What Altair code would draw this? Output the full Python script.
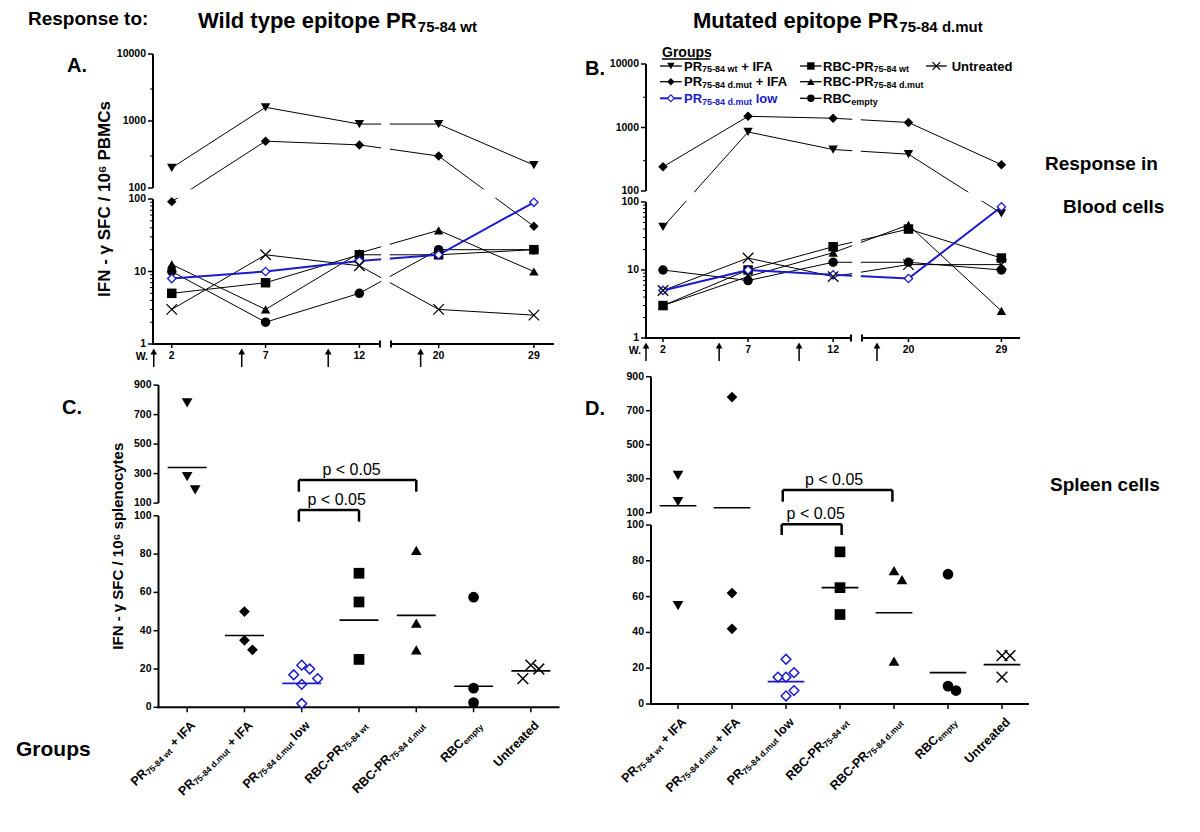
import altair as alt
import pandas as pd

# ------------------------------------------------------------------ data
WEEKS = [2, 7, 12, 20, 29]
GROUPS = ["wt_ifa", "dmut_ifa", "dmut_low", "rbc_wt", "rbc_dmut", "rbc_empty", "untreated"]

# A: blood cells, response to wild type epitope (SFC / 10^6 PBMCs)
A_WT_IFA = [200, 1600, 900, 900, 220]
A_DMUT_IFA = [92, 500, 440, 300, 42]
A_DMUT_LOW = [8, 10, 14, 17, 90]
A_RBC_WT = [5, 7, 17, 17, 20]
A_RBC_DMUT = [12.5, 3, 18, 37, 10]
A_RBC_EMPTY = [10, 2, 5, 20, 20]
A_UNTREATED = [3, 17, 12, 3, 2.5]
A_IMMUNISATION_WEEKS = [1.04, 5.73, 10.34, 18.3]

# B: blood cells, response to mutated epitope
B_WT_IFA = [43, 850, 450, 380, 68]
B_DMUT_IFA = [240, 1500, 1400, 1200, 260]
B_DMUT_LOW = [5, 10, 8.5, 7.5, 85]
B_RBC_WT = [3, 10, 22, 40, 15]
B_RBC_DMUT = [3, 8, 18, 46, 2.5]
B_RBC_EMPTY = [10, 7, 13, 13, 10]
B_UNTREATED = [5, 15, 8, 12, 12]
B_IMMUNISATION_WEEKS = [1.0, 5.3, 10.0, 16.95]

# C: spleen cells, wild type epitope (SFC / 10^6 splenocytes)
C_WT_IFA = [780, 280, 190]
C_DMUT_IFA = [50, 35, 30]
C_DMUT_LOW = [22, 20, 17, 15, 12, 2]
C_RBC_WT = [70, 55, 25]
C_RBC_DMUT = [82, 44, 30]
C_RBC_EMPTY = [57.5, 10, 2.5]
C_UNTREATED = [22, 20, 15]
C_MEANS = [341, 37.5, 12.5, 45.5, 48, 11, 19]

# D: spleen cells, mutated epitope
D_WT_IFA = [320, 165, 55]
D_DMUT_IFA = [780, 62, 42]
D_DMUT_LOW = [25, 17.5, 15, 15, 7.5, 4.5]
D_RBC_WT = [85, 65, 50]
D_RBC_DMUT = [74.5, 69.5, 24]
D_RBC_EMPTY = [72.5, 10, 7.5]
D_UNTREATED = [27, 27, 15]
D_MEANS = [141, 129, 12.5, 65, 51, 17.5, 22]

# axis ticks (broken axes: 'b' = lower segment, 't' = upper segment)
LOG_TICKS = [1, 10, 100, 100, 1000, 10000]
LOG_TICK_SEGS = ["b", "b", "b", "t", "t", "t"]
LOG_MINOR_TICKS = [2, 3, 4, 5, 6, 7, 8, 9, 20, 30, 40, 50, 60, 70, 80, 90, 300, 3000]
LIN_TICKS = [0, 20, 40, 60, 80, 100, 100, 300, 500, 700, 900]
LIN_TICK_SEGS = ["b"] * 6 + ["t"] * 5
P_LABEL = "p < 0.05"

# ------------------------------------------------------------------ styling / layout
BLUE = "#1a1acc"
FONT = "Liberation Sans"
XPATH = "M-1,-1L1,1M-1,1L1,-1"
CANVAS_W, CANVAS_H = 1184, 816
MARGIN = 8
TICKF = 10.5


def cx(p):
    return p - MARGIN


SHAPES = {"wt_ifa": "triangle-down", "dmut_ifa": "diamond", "dmut_low": "diamond",
          "rbc_wt": "square", "rbc_dmut": "triangle-up", "rbc_empty": "circle",
          "untreated": XPATH}
KIND = {g: "filled" for g in GROUPS}
KIND["dmut_low"] = "open"
KIND["untreated"] = "cross"
DRAW_ORDER = ["rbc_empty", "rbc_dmut", "rbc_wt", "dmut_low", "untreated", "dmut_ifa", "wt_ifa"]

PARTS = {
    "wt_ifa": [("PR", 0), ("75-84 wt", 1), (" + IFA", 0)],
    "dmut_ifa": [("PR", 0), ("75-84 d.mut", 1), (" + IFA", 0)],
    "dmut_low": [("PR", 0), ("75-84 d.mut", 1), (" low", 0)],
    "rbc_wt": [("RBC-PR", 0), ("75-84 wt", 1)],
    "rbc_dmut": [("RBC-PR", 0), ("75-84 d.mut", 1)],
    "rbc_empty": [("RBC", 0), ("empty", 1)],
    "untreated": [("Untreated", 0)],
}

CHARW = {'A': 722, 'B': 722, 'C': 722, 'D': 722, 'E': 667, 'F': 611, 'G': 778, 'I': 278,
         'M': 833, 'N': 722, 'P': 667, 'R': 722, 'S': 667, 'U': 722, 'W': 944,
         'a': 556, 'c': 556, 'd': 611, 'e': 556, 'i': 278, 'l': 278, 'm': 889, 'n': 611,
         'o': 611, 'p': 611, 'r': 389, 's': 556, 't': 333, 'u': 611, 'w': 778, 'y': 556,
         ' ': 278, '.': 278, '-': 333, '+': 584, ':': 333}


def tw(s, fs):
    return sum(CHARW.get(c, 556) for c in s) * fs / 1000.0


PA = dict(x0=cx(153), W=401, yb=cx(344), H=290, LS=18.76, RS0=238, RS=10.584, Lend=227,
          BD=72.5, T0=156, TD=67)
PB = dict(x0=cx(646), W=374, yb=cx(338), H=274, LS=17.012, RS0=216, RS=10.327, Lend=205,
          BD=68, T0=147, TD=63.5)
PC = dict(x0=cx(158.5), x1=cx(559.5), yb=cx(707.3), BU=1.915, T0=204.2, TU=0.1475, H=322.2)
PD = dict(x0=cx(651), x1=cx(1029), yb=cx(704), BU=1.79, T0=191.3, TU=0.17, H=327.3)


def point_layers(base, X, Y, sizes, sw):
    filled = base.transform_filter("datum.kind == 'filled'").mark_point(
        filled=True, color="black", opacity=1, size=sizes[0]).encode(
        x=X, y=Y, shape=alt.Shape("shape:N", scale=None))
    openp = base.transform_filter("datum.kind == 'open'").mark_point(
        shape="diamond", filled=True, fill="white", stroke=BLUE, strokeWidth=sw,
        opacity=1, size=sizes[1]).encode(x=X, y=Y)
    cross = base.transform_filter("datum.kind == 'cross'").mark_point(
        shape=XPATH, filled=False, stroke="black", strokeWidth=sw, opacity=1,
        size=sizes[2]).encode(x=X, y=Y)
    return [filled, openp, cross]


def rules(df, xs, ys, width, color="black"):
    enc = dict(x=alt.X("x:Q", scale=xs, axis=None), y=alt.Y("y:Q", scale=ys, axis=None))
    if "x2" in df:
        enc["x2"] = "x2:Q"
    if "y2" in df:
        enc["y2"] = "y2:Q"
    return alt.Chart(df).mark_rule(color=color, strokeWidth=width).encode(**enc)


def time_panel(series, imm_weeks, P, ytitle, tsize, title_dx):
    W, H = P["W"], P["H"]
    xs = alt.Scale(domain=[0, W], range=[P["x0"], P["x0"] + W], nice=False, zero=False)
    ys = alt.Scale(domain=[0, H], range=[P["yb"], P["yb"] - H], nice=False, zero=False)
    xexpr = (f"datum.week < 14 ? (datum.week - 1) * {P['LS']} : "
             f"{P['RS0']} + (datum.week - 15.5) * {P['RS']}")
    yexpr = (f"(datum.seg ? datum.seg == 'b' : datum.value < 100) ? "
             f"log(datum.value) / LN10 * {P['BD']} : "
             f"{P['T0']} + (log(datum.value) / LN10 - 2) * {P['TD']}")

    rows = [dict(group=g, week=w, value=v, shape=SHAPES[g], kind=KIND[g])
            for g in DRAW_ORDER for w, v in zip(WEEKS, series[g])]
    base = alt.Chart(pd.DataFrame(rows)).transform_calculate(xt=xexpr, yt=yexpr)
    Xn = alt.X("xt:Q", scale=xs, axis=None)
    Yn = alt.Y("yt:Q", scale=ys, axis=None)

    lines = base.transform_filter("datum.group != 'dmut_low'").mark_line(
        color="black", strokeWidth=1).encode(x=Xn, y=Yn, detail="group:N")
    blue = base.transform_filter("datum.group == 'dmut_low'").mark_line(
        color=BLUE, strokeWidth=2).encode(x=Xn, y=Yn)

    mask_df = pd.DataFrame([
        dict(x=-3, x2=W + 3, y=2 * P["BD"] + 1.2, y2=P["T0"] - 1.2),
        dict(x=P["Lend"] + 1.2, x2=P["RS0"] - 1.2, y=-6, y2=H + 4),
    ])
    masks = alt.Chart(mask_df).mark_rect(color="white", opacity=1).encode(
        x=alt.X("x:Q", scale=xs, axis=None), x2="x2:Q",
        y=alt.Y("y:Q", scale=ys, axis=None), y2="y2:Q")

    # axis lines (broken)
    ydom = rules(pd.DataFrame([dict(x=0, y=-1, y2=2 * P["BD"]), dict(x=0, y=P["T0"], y2=H)]),
                 xs, ys, 2)
    xdom = rules(pd.DataFrame([dict(x=-1, x2=P["Lend"], y=0), dict(x=P["RS0"], x2=W, y=0)]),
                 xs, ys, 2)
    caps = rules(pd.DataFrame([dict(x=P["Lend"], y=-3.5, y2=3.5),
                               dict(x=P["RS0"], y=-3.5, y2=3.5)]), xs, ys, 2)
    # y ticks + labels
    ytk = alt.Chart(pd.DataFrame({"value": LOG_TICKS, "seg": LOG_TICK_SEGS,
                                  "label": [str(v) for v in LOG_TICKS]})).transform_calculate(
        yt=yexpr, xa="-5", xb="0")
    ytick = ytk.mark_rule(color="black", strokeWidth=1.5).encode(
        x=alt.X("xa:Q", scale=xs, axis=None), x2="xb:Q", y=Yn)
    ylab = ytk.mark_text(align="right", baseline="middle", dx=-7, font=FONT, fontWeight="bold",
                         fontSize=TICKF, color="black").encode(
        x=alt.X("xb:Q", scale=xs, axis=None), y=Yn, text="label:N")
    minor = alt.Chart(pd.DataFrame({"value": LOG_MINOR_TICKS})).transform_calculate(
        yt=yexpr, xa="-3", xb="0").mark_rule(color="black", strokeWidth=1).encode(
        x=alt.X("xa:Q", scale=xs, axis=None), x2="xb:Q", y=Yn)
    # x ticks + labels
    xtk = alt.Chart(pd.DataFrame({"week": WEEKS, "label": [str(w) for w in WEEKS]})
                    ).transform_calculate(xt=xexpr, ya="0", yb="-4", yl="-12")
    xtick = xtk.mark_rule(color="black", strokeWidth=1.5).encode(
        x=Xn, y=alt.Y("ya:Q", scale=ys, axis=None), y2="yb:Q")
    xlab = xtk.mark_text(align="center", baseline="middle", font=FONT, fontWeight="bold",
                         fontSize=TICKF, color="black").encode(
        x=Xn, y=alt.Y("yl:Q", scale=ys, axis=None), text="label:N")

    arr = alt.Chart(pd.DataFrame({"week": imm_weeks})).transform_calculate(
        xt=xexpr, ya="-10", yb="-23", yh="-7.5")
    shafts = arr.mark_rule(color="black", strokeWidth=1.5).encode(
        x=Xn, y=alt.Y("ya:Q", scale=ys, axis=None), y2="yb:Q")
    heads = arr.mark_point(shape="triangle-up", filled=True, color="black", size=45,
                           opacity=1).encode(x=Xn, y=alt.Y("yh:Q", scale=ys, axis=None))
    txt = [dict(x=-5, y=-13, t="W.")]
    wl = alt.Chart(pd.DataFrame(txt)).mark_text(
        align="right", baseline="middle", font=FONT, fontWeight="bold", fontSize=TICKF,
        color="black").encode(x=alt.X("x:Q", scale=xs, axis=None),
                              y=alt.Y("y:Q", scale=ys, axis=None), text="t:N")
    layers = [lines, blue, masks, ydom, xdom, caps, ytick, ylab, minor, xtick, xlab,
              shafts, heads, wl]
    if ytitle:
        layers.append(alt.Chart(pd.DataFrame([dict(x=title_dx, y=H / 2, t=ytitle)])).mark_text(
            angle=270, align="center", baseline="middle", font=FONT, fontWeight="bold",
            fontSize=tsize, color="black").encode(
            x=alt.X("x:Q", scale=xs, axis=None), y=alt.Y("y:Q", scale=ys, axis=None),
            text="t:N"))
    layers += point_layers(base, Xn, Yn, (90, 70, 110), 1.3)
    return alt.layer(*layers)


def slots_for(values, yfun, thr=13.5):
    placed = []
    res = [0] * len(values)
    for i in sorted(range(len(values)), key=lambda k: -values[k]):
        y = yfun(values[i])
        for s in [0, 1, -1, 2, -2, 3, -3]:
            if all(abs(y - py) >= thr for py, ps in placed if ps == s):
                res[i] = s
                placed.append((y, s))
                break
    return res


MAINF, SUBF = 12.5, 8.5


def dot_panel(vals, means, brackets, ptexts, P, ytitle, tsize):
    H = P["H"]
    xs = alt.Scale(domain=[-0.5, 6.5], range=[P["x0"], P["x1"]], nice=False, zero=False)
    ys = alt.Scale(domain=[0, H], range=[P["yb"], P["yb"] - H], nice=False, zero=False)
    step = (P["x1"] - P["x0"]) / 7.0
    sw = 8.0 / step

    def yt(v):
        return v * P["BU"] if v <= 100 else P["T0"] + (v - 100) * P["TU"]

    yexpr = (f"(datum.seg ? datum.seg == 'b' : datum.value <= 100) ? datum.value * {P['BU']} : "
             f"{P['T0']} + (datum.value - 100) * {P['TU']}")
    rows = []
    for gi, g in enumerate(GROUPS):
        sl = slots_for(vals[g], yt)
        for v, s in zip(vals[g], sl):
            rows.append(dict(group=g, idx=gi, value=v, slot=s, shape=SHAPES[g], kind=KIND[g]))
    base = alt.Chart(pd.DataFrame(rows)).transform_calculate(
        yt=yexpr, xp=f"datum.idx + datum.slot * {sw}")
    Xp = alt.X("xp:Q", scale=xs, axis=None)
    Yn = alt.Y("yt:Q", scale=ys, axis=None)

    # axes
    ydom = rules(pd.DataFrame([dict(x=-0.5, y=-1, y2=100 * P["BU"]),
                               dict(x=-0.5, y=P["T0"], y2=H)]), xs, ys, 2)
    xdom = rules(pd.DataFrame([dict(x=-0.5 - 1 / step, x2=6.5, y=0)]), xs, ys, 2)
    xtick = rules(pd.DataFrame([dict(x=i, y=0, y2=-5) for i in range(7)]), xs, ys, 1.5)
    ytk = alt.Chart(pd.DataFrame({"value": LIN_TICKS, "seg": LIN_TICK_SEGS,
                                  "label": [str(v) for v in LIN_TICKS]})).transform_calculate(
        yt=yexpr, xa=f"{-0.5 - 5 / step}", xb="-0.5")
    ytick = ytk.mark_rule(color="black", strokeWidth=1.5).encode(
        x=alt.X("xa:Q", scale=xs, axis=None), x2="xb:Q", y=Yn)
    ylab = ytk.mark_text(align="right", baseline="middle", dx=-7, font=FONT, fontWeight="bold",
                         fontSize=TICKF, color="black").encode(
        x=alt.X("xb:Q", scale=xs, axis=None), y=Yn, text="label:N")

    pts = point_layers(base, Xp, Yn, (115, 95, 115), 1.5)

    mdf = pd.DataFrame({"idx": list(range(7)), "value": means,
                        "c": [BLUE if g == "dmut_low" else "black" for g in GROUPS]})
    bars = alt.Chart(mdf).transform_calculate(
        yt=yexpr, xa="datum.idx - 0.34", xb="datum.idx + 0.34").mark_rule(strokeWidth=1.6).encode(
        x=alt.X("xa:Q", scale=xs, axis=None), x2="xb:Q", y=Yn,
        color=alt.Color("c:N", scale=None))

    seg = []
    for (x1, x2, top, leg) in brackets:
        seg += [dict(x=x1, x2=x2, y=top, y2=top), dict(x=x1, x2=x1, y=top, y2=leg),
                dict(x=x2, x2=x2, y=top, y2=leg)]
    br = rules(pd.DataFrame(seg), xs, ys, 2.5)
    pt = alt.Chart(pd.DataFrame([dict(x=a, y=b, t=P_LABEL) for a, b in ptexts])).mark_text(
        align="center", baseline="middle", font=FONT, fontSize=16, color="black").encode(
        x=alt.X("x:Q", scale=xs, axis=None), y=alt.Y("y:Q", scale=ys, axis=None), text="t:N")

    labels = []
    for gi, g in enumerate(GROUPS):
        parts = PARTS[g]
        for k, (txt, sub) in enumerate(parts):
            after = sum(tw(t, SUBF if s else MAINF) for t, s in parts[k + 1:])
            labels.append(alt.Chart(pd.DataFrame({"idx": [gi], "t": [txt.strip()]})).mark_text(
                angle=315, align="right", baseline="middle", dx=-7.07 - after,
                dy=15.6 + (3 if sub else 0), fontSize=SUBF if sub else MAINF,
                fontWeight="bold", font=FONT, color="black").encode(
                x=alt.X("idx:Q", scale=xs, axis=None), y=alt.value(P["yb"]), text="t:N"))
    layers = [ydom, xdom, xtick, ytick, ylab] + pts + [bars, br, pt] + labels
    if ytitle:
        layers.append(alt.Chart(pd.DataFrame([dict(x=-0.5 - 40.5 / step, y=H / 2,
                                                   t=ytitle)])).mark_text(
            angle=270, align="center", baseline="middle", font=FONT, fontWeight="bold",
            fontSize=tsize, color="black").encode(
            x=alt.X("x:Q", scale=xs, axis=None), y=alt.Y("y:Q", scale=ys, axis=None),
            text="t:N"))
    return alt.layer(*layers)


A_SERIES = dict(wt_ifa=A_WT_IFA, dmut_ifa=A_DMUT_IFA, dmut_low=A_DMUT_LOW, rbc_wt=A_RBC_WT,
                rbc_dmut=A_RBC_DMUT, rbc_empty=A_RBC_EMPTY, untreated=A_UNTREATED)
B_SERIES = dict(wt_ifa=B_WT_IFA, dmut_ifa=B_DMUT_IFA, dmut_low=B_DMUT_LOW, rbc_wt=B_RBC_WT,
                rbc_dmut=B_RBC_DMUT, rbc_empty=B_RBC_EMPTY, untreated=B_UNTREATED)
C_VALS = dict(wt_ifa=C_WT_IFA, dmut_ifa=C_DMUT_IFA, dmut_low=C_DMUT_LOW, rbc_wt=C_RBC_WT,
              rbc_dmut=C_RBC_DMUT, rbc_empty=C_RBC_EMPTY, untreated=C_UNTREATED)
D_VALS = dict(wt_ifa=D_WT_IFA, dmut_ifa=D_DMUT_IFA, dmut_low=D_DMUT_LOW, rbc_wt=D_RBC_WT,
              rbc_dmut=D_RBC_DMUT, rbc_empty=D_RBC_EMPTY, untreated=D_UNTREATED)

panel_a = time_panel(A_SERIES, A_IMMUNISATION_WEEKS, PA, "IFN - γ SFC / 10⁶ PBMCs", 17, -48)
panel_b = time_panel(B_SERIES, B_IMMUNISATION_WEEKS, PB, None, 12, -40)
panel_c = dot_panel(C_VALS, C_MEANS,
                    [(1.95, 4.0, 227.3, 215.6), (1.95, 3.0, 197.3, 185.6)],
                    [(2.87, 237.3), (2.61, 207.3)], PC, "IFN - γ SFC / 10⁶ splenocytes", 15)
panel_d = dot_panel(D_VALS, D_MEANS,
                    [(1.94, 3.97, 214, 202.3), (1.92, 3.03, 179.7, 169)],
                    [(2.89, 224), (2.55, 190)], PD, None, 12)

# ------------------------------------------------------------------ free text
ann = []


def add(t, x, y, fs, c="black"):
    # y is the centre of the capitals; convert to an alphabetic baseline
    ann.append(dict(t=t, x=cx(x), y=cx(y) + 0.36 * fs, fs=fs, c=c))


add("Response to:", 28, 18.5, 19)
h1 = "Wild type epitope PR"
add(h1, 198, 20.5, 22)
add("75-84 wt", 198 + tw(h1, 22) + 1, 27, 15)
h2 = "Mutated epitope PR"
add(h2, 693, 20.5, 22)
add("75-84 d.mut", 693 + tw(h2, 22) + 1, 27, 15)
add("A.", 67, 65, 20)
add("B.", 585, 68, 20)
add("C.", 62, 407, 20)
add("D.", 585, 408, 20)
add("Response in", 1045, 163, 19)
add("Blood cells", 1063, 206, 19)
add("Spleen cells", 1050, 484, 19)
add("Groups", 16, 748, 21)
add("Groups", 662, 52, 14)

# legend
LEG_COLS = [(660, 681.7, 684), (800, 821.7, 823), (926, 946.7, 951.7)]
LEG_ROWS = [66, 81.7, 98.3]
LEG_POS = {"wt_ifa": (0, 0), "dmut_ifa": (0, 1), "dmut_low": (0, 2), "rbc_wt": (1, 0),
           "rbc_dmut": (1, 1), "rbc_empty": (1, 2), "untreated": (2, 0)}
leg_lines, leg_pts = [], []
for g in GROUPS:
    ci, ri = LEG_POS[g]
    x1, x2, xt = LEG_COLS[ci]
    y = LEG_ROWS[ri]
    col = BLUE if g == "dmut_low" else "black"
    leg_lines.append(dict(x=cx(x1), x2=cx(x2), y=cx(y), c=col, sw=2 if g == "dmut_low" else 1.3))
    leg_pts.append(dict(x=cx((x1 + x2) / 2), y=cx(y), shape=SHAPES[g], kind=KIND[g]))
    cur = xt
    for txt, sub in PARTS[g]:
        fs = 9 if sub else 13
        lead = len(txt) - len(txt.lstrip())
        add(txt.strip(), cur + tw(" " * lead, fs), y + (3 if sub else 0), fs, col)
        cur += tw(txt, fs)

ann_df = pd.DataFrame(ann)
ann_layer = alt.Chart(ann_df).mark_text(align="left", baseline="alphabetic", font=FONT,
                                        fontWeight="bold").encode(
    x=alt.X("x:Q", scale=None), y=alt.Y("y:Q", scale=None), text="t:N",
    size=alt.Size("fs:Q", scale=None), color=alt.Color("c:N", scale=None))
leg_line_layer = alt.Chart(pd.DataFrame(leg_lines)).mark_rule().encode(
    x=alt.X("x:Q", scale=None), x2="x2:Q", y=alt.Y("y:Q", scale=None),
    color=alt.Color("c:N", scale=None), strokeWidth=alt.StrokeWidth("sw:Q", scale=None))
underline = alt.Chart(pd.DataFrame([dict(x=cx(662), x2=cx(710), y=cx(59))])).mark_rule(
    color="black", strokeWidth=1.3).encode(x=alt.X("x:Q", scale=None), x2="x2:Q",
                                           y=alt.Y("y:Q", scale=None))
leg_base = alt.Chart(pd.DataFrame(leg_pts))
leg_point_layers = point_layers(leg_base, alt.X("x:Q", scale=None), alt.Y("y:Q", scale=None),
                                (55, 45, 60), 1.2)

chart = alt.layer(panel_a, panel_b, panel_c, panel_d, ann_layer, leg_line_layer, underline,
                  *leg_point_layers).resolve_scale(x="independent", y="independent").properties(
    width=CANVAS_W, height=CANVAS_H, padding=0,
    autosize=alt.AutoSizeParams(type="none")).configure_view(stroke=None)

chart.save("out.html", embed_options={"renderer": "svg", "actions": False})
